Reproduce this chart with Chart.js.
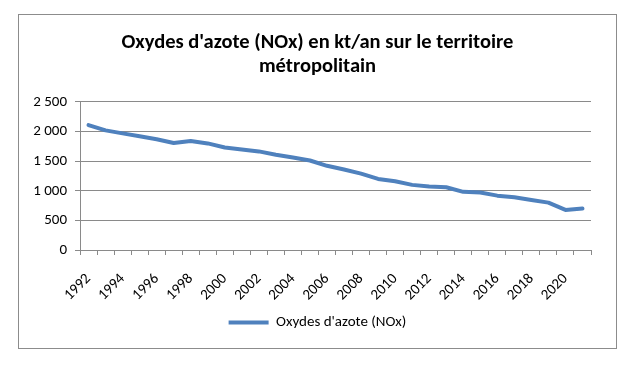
<!DOCTYPE html>
<html>
<head>
<meta charset="utf-8">
<script src="https://cdn.jsdelivr.net/npm/chart.js"></script>
<style>
  *{box-sizing:border-box;margin:0;padding:0}
  body{background:#fff;width:636px;height:365px;overflow:hidden}
  .frame{position:absolute;left:18px;top:14px;width:599px;height:335px;border:1px solid #8c8c8c;background:#fff}
  .frame canvas{display:block}
</style>
</head>
<body>
<div class="frame"><canvas id="chart" width="597" height="333"></canvas></div>
<script>
const titleLines = ["Oxydes d'azote (NOx) en kt/an sur le territoire", "métropolitain"];
const seriesName = "Oxydes d'azote (NOx)";
const years = ["1992","1993","1994","1995","1996","1997","1998","1999","2000","2001",
  "2002","2003","2004","2005","2006","2007","2008","2009","2010","2011",
  "2012","2013","2014","2015","2016","2017","2018","2019","2020","2021"];
const nox = [2110, 2020, 1970, 1920, 1870, 1806, 1840, 1800, 1732, 1699,
  1665, 1608, 1563, 1512, 1422, 1360, 1290, 1200, 1160, 1100,
  1072, 1060, 982, 970, 918, 890, 845, 800, 677, 700];
const yTicks = [0, 500, 1000, 1500, 2000, 2500];

const blue = "#4f81bd";
const grey = "#8a8a8a";
const font = "Carlito, Lato, 'Liberation Sans', sans-serif";

const fmt = v => String(v).replace(/\B(?=(\d{3})+(?!\d))/g, " ");

new Chart(document.getElementById("chart"), {
  type: "line",
  data: {
    labels: years,
    datasets: [{
      label: seriesName, data: nox, borderColor: blue, backgroundColor: blue,
      borderWidth: 4, pointRadius: 0, tension: 0, borderJoinStyle: "round", borderCapStyle: "round"
    }]
  },
  options: {
    responsive: false, animation: false, devicePixelRatio: 1,
    layout: { padding: { left: 0, right: 0, top: 0, bottom: 8 } },
    plugins: {
      title: {
        display: true, text: titleLines, color: "#000",
        font: { family: font, size: 20.5, weight: "bold", lineHeight: 1.17 },
        padding: { top: 16, bottom: 23 }
      },
      legend: {
        position: "bottom",
        labels: {
          color: "#000", boxWidth: 40, boxHeight: 4, padding: 9,
          font: { family: font, size: 15 },
          generateLabels: c => Chart.defaults.plugins.legend.labels.generateLabels(c).map(l => ({ ...l, lineWidth: 0, fillStyle: blue }))
        }
      },
      tooltip: { enabled: false }
    },
    scales: {
      x: {
        offset: true,
        grid: { offset: true, drawOnChartArea: false, color: grey, tickLength: 5 },
        border: { color: grey },
        afterFit: s => { s.height = 56; },
        ticks: {
          autoSkip: false, maxRotation: 45, minRotation: 45, padding: 15,
          color: "#000", font: { family: font, size: 15 },
          callback: (v, i) => i % 2 === 0 ? years[i] : ""
        }
      },
      y: {
        min: 0, max: 2500,
        afterBuildTicks: s => { s.ticks = yTicks.map(v => ({ value: v })); },
        afterFit: s => { s.width = 61; },
        grid: { color: grey, tickLength: 5 },
        border: { color: grey },
        ticks: { color: "#000", padding: 8, font: { family: font, size: 15 }, callback: v => fmt(v) }
      },
      // empty right margin axis so the plot ends where the reference does
      gap: {
        position: "right", display: true,
        afterFit: s => { s.width = 25; },
        grid: { display: false, drawTicks: false },
        border: { display: false },
        ticks: { display: false }
      }
    }
  }
});
</script>
</body>
</html>
